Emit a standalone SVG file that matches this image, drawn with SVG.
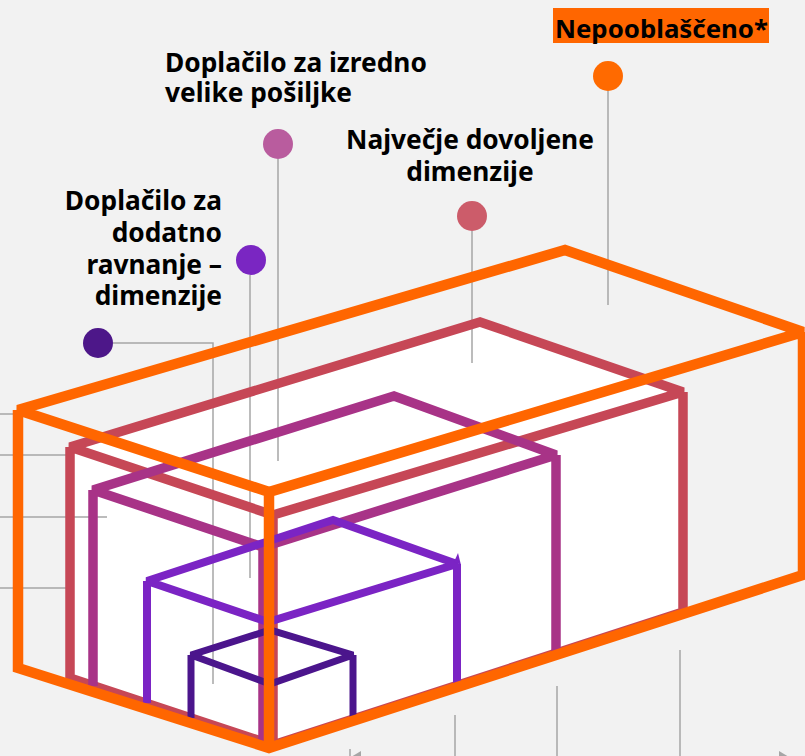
<svg xmlns="http://www.w3.org/2000/svg" width="805" height="756" viewBox="0 0 805 756">
<style>
.lbl{font-family:"Noto Sans","Open Sans","DejaVu Sans",sans-serif;font-weight:700;font-size:26.3px;fill:#000}
.lead{stroke:#a6a6a6;stroke-width:1.5;fill:none}
.box{fill:none;stroke-linejoin:miter;stroke-miterlimit:3}
</style>
<rect width="805" height="756" fill="#f2f2f2"/>
<polygon id="inner-fill" fill="#ffffff" points="70,447 480,322 683,392 683,612 273,745 70,678"/>
<g id="connectors" class="lead">
  <path d="M608,91V305"/>
  <path d="M472,231V363"/>
  <path d="M278,159V461"/>
  <path d="M250,275V578"/>
  <path d="M113,343H213V684"/>
  <path d="M0,414H15"/>
  <path d="M0,455H66"/>
  <path d="M0,517H107"/>
  <path d="M0,588H66"/>
  <path d="M350,749V756"/>
  <path d="M455,715V756"/>
  <path d="M557,686V756"/>
  <path d="M680,650V756"/>
  <polygon points="351,757 361,751 361,757" fill="#a6a6a6" stroke="none"/>
  <polygon points="789,757 779,751 779,757" fill="#a6a6a6" stroke="none"/>
</g>
<g id="box-najvecje" class="box" stroke="#c64756" stroke-width="9.5">
  <path d="M70,447 L480,322 L683,392 L273,515 Z M70,447 V678 L273,745 L683,612 V392 M273,515 V745"/>
</g>
<g id="box-izredno" class="box" stroke="#a83387" stroke-width="9.5">
  <path d="M93,490 L394,396 L556,455 L263,547 Z M93,490 V686 M556,455 V653 M263,547 V742"/>
</g>
<g id="box-ravnanje" class="box" stroke="#7b24c4" stroke-width="8">
  <path d="M147,581 L333,520 L457,564 L268,622 Z M147,581 V703 M457,564 V686 M268,622 V744"/>
  <polygon points="454,562 458,553 461,565" fill="#7b24c4" stroke="none"/>
</g>
<g id="box-dark" class="box" stroke="#4b158c" stroke-width="7">
  <path d="M191,655 L270,630 L353,655 L270,684 Z M191,655 V718 M353,655 V719 M270,684 V745"/>
</g>
<g id="box-nepooblasceno" class="box" stroke="#ff6600" stroke-width="10.5">
  <path d="M18,410 L565,250 L803,332 L269,492 Z M18,410 V668 L269,748 L803,575 V332 M269,492 V748"/>
</g>
<g id="node-nepooblasceno">
  <rect x="553" y="8" width="216" height="35" fill="#ff6600"/>
  <text class="lbl" x="555" y="38" style="font-size:25.8px">Nepooblaščeno*</text>
  <circle cx="608" cy="76" r="15" fill="#ff6a00"/>
</g>
<g id="node-izredno">
  <text class="lbl" x="165" y="72">Doplačilo za izredno</text>
  <text class="lbl" x="165" y="102">velike pošiljke</text>
  <circle cx="278" cy="144" r="15" fill="#b95c9e"/>
</g>
<g id="node-najvecje">
  <text class="lbl" x="470" y="149" text-anchor="middle">Največje dovoljene</text>
  <text class="lbl" x="470" y="181" text-anchor="middle">dimenzije</text>
  <circle cx="472" cy="216" r="15" fill="#cc5c6a"/>
</g>
<g id="node-ravnanje">
  <text class="lbl" x="222" y="210" text-anchor="end">Doplačilo za</text>
  <text class="lbl" x="222" y="242" text-anchor="end">dodatno</text>
  <text class="lbl" x="222" y="274" text-anchor="end">ravnanje –</text>
  <text class="lbl" x="222" y="305" text-anchor="end">dimenzije</text>
  <circle cx="251" cy="260" r="15" fill="#7a26c2"/>
</g>
<g id="node-dark">
  <circle cx="98" cy="343" r="15" fill="#4d1789"/>
</g>
</svg>
